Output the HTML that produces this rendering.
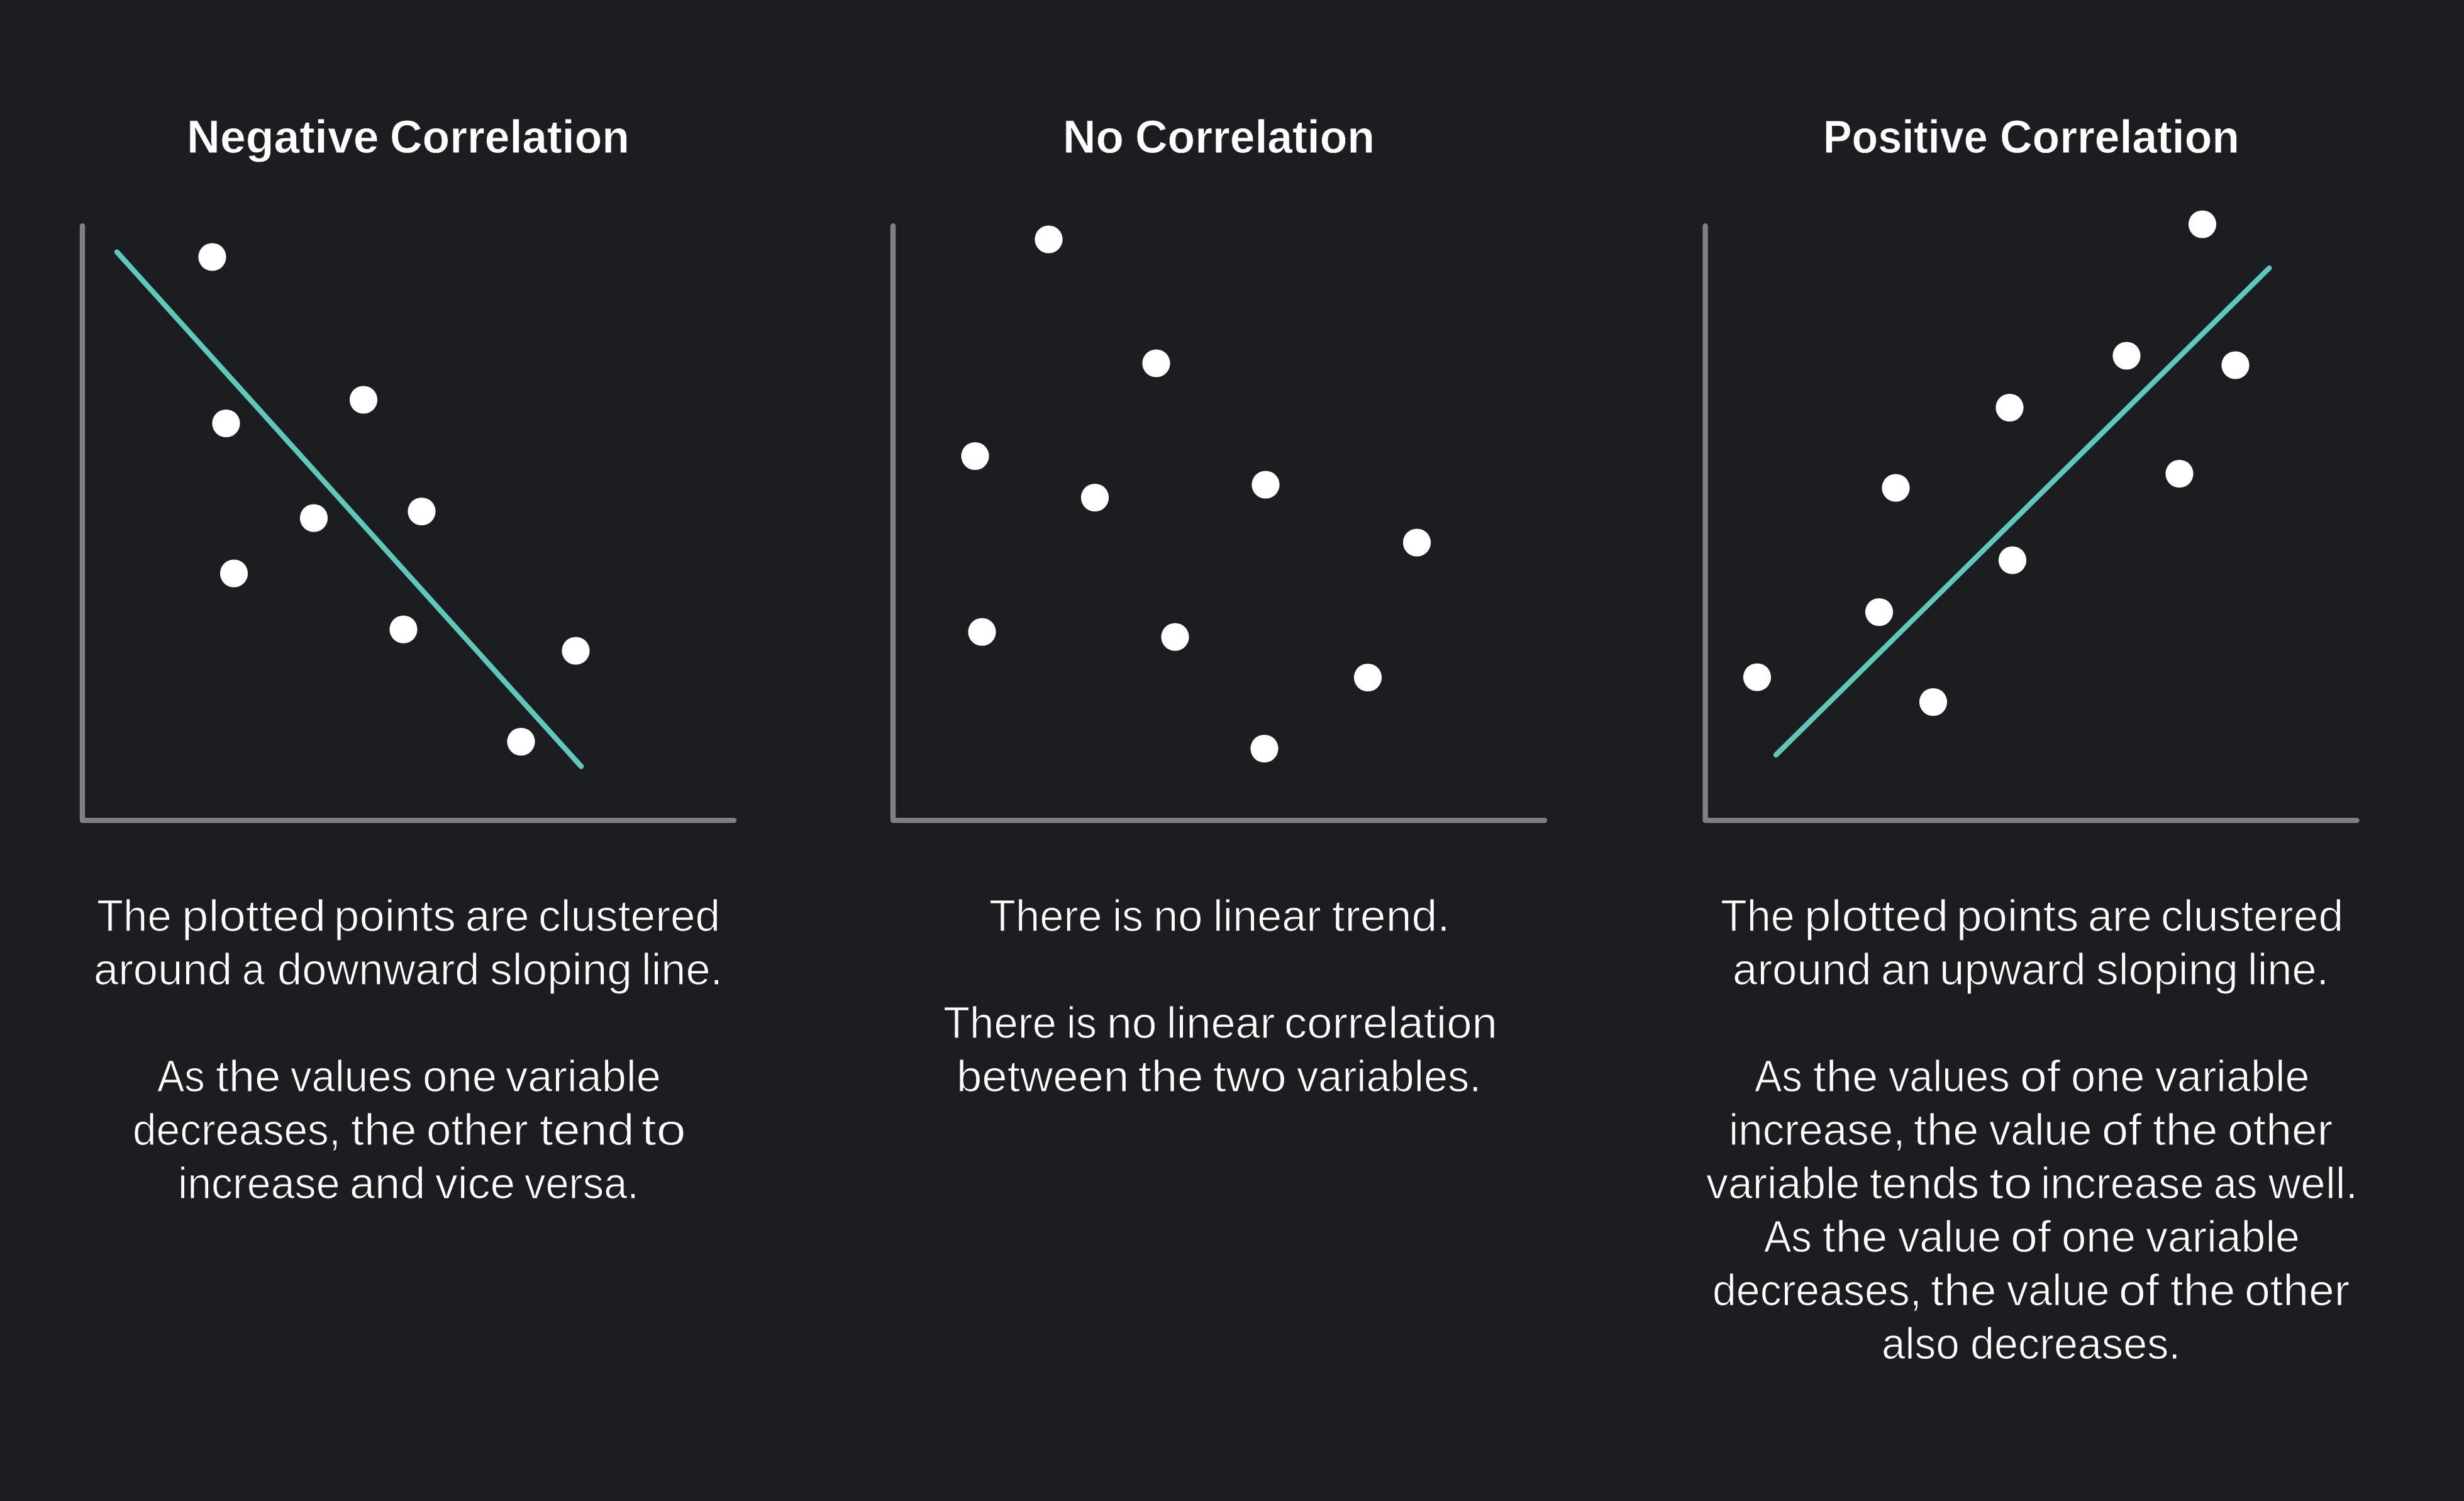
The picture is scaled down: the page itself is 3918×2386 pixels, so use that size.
<!DOCTYPE html>
<html><head><meta charset="utf-8"><title>Correlation</title>
<style>
html,body{margin:0;padding:0;background:#1c1d21;}
body{width:3918px;height:2386px;position:relative;overflow:hidden;font-family:"Liberation Sans",sans-serif;color:#fff;}
svg{position:absolute;left:0;top:0;display:block;}
p,h2{margin:0;padding:0;font-weight:inherit;font-size:inherit;}
.b,.t{position:absolute;white-space:nowrap;display:block;transform-origin:0 0;}
.b{font-size:69.5px;line-height:83.4px;font-weight:400;-webkit-text-stroke:1.2px #1c1d21;}
.t{font-size:74px;line-height:88.8px;font-weight:700;-webkit-text-stroke:0.8px #1c1d21;}
</style></head><body>
<svg width="3918" height="2386" viewBox="0 0 3918 2386">
<polyline points="131.0,359.2 131.0,1304.1 1167.0,1304.1" fill="none" stroke="#808080" stroke-width="8.4" stroke-linecap="round" stroke-linejoin="round"/>
<polyline points="1420.0,359.2 1420.0,1304.1 2456.0,1304.1" fill="none" stroke="#808080" stroke-width="8.4" stroke-linecap="round" stroke-linejoin="round"/>
<polyline points="2711.6,359.2 2711.6,1304.1 3747.6,1304.1" fill="none" stroke="#808080" stroke-width="8.4" stroke-linecap="round" stroke-linejoin="round"/>
<line x1="186.0" y1="400.6" x2="924.2" y2="1218.4" stroke="#5ec8bb" stroke-width="8.3" stroke-linecap="round"/>
<line x1="2824.0" y1="1200.0" x2="3608.3" y2="426.1" stroke="#5ec8bb" stroke-width="8.3" stroke-linecap="round"/>
<g fill="#fff"><circle cx="337.5" cy="408.5" r="22.1"/><circle cx="578" cy="635.5" r="22.1"/><circle cx="359.5" cy="673" r="22.1"/><circle cx="499" cy="823.5" r="22.1"/><circle cx="670.5" cy="813" r="22.1"/><circle cx="372" cy="911.5" r="22.1"/><circle cx="641.5" cy="1000.5" r="22.1"/><circle cx="915.5" cy="1034.5" r="22.1"/><circle cx="828.5" cy="1179" r="22.1"/></g>
<g fill="#fff"><circle cx="1667.5" cy="380.5" r="22.1"/><circle cx="1838.5" cy="577.5" r="22.1"/><circle cx="1550.5" cy="725" r="22.1"/><circle cx="1741" cy="791" r="22.1"/><circle cx="2012.5" cy="770.5" r="22.1"/><circle cx="2253" cy="862.5" r="22.1"/><circle cx="1561.5" cy="1004.5" r="22.1"/><circle cx="1868.5" cy="1012.5" r="22.1"/><circle cx="2175" cy="1077" r="22.1"/><circle cx="2010.5" cy="1190" r="22.1"/></g>
<g fill="#fff"><circle cx="3502" cy="356.5" r="22.1"/><circle cx="3381.5" cy="565.5" r="22.1"/><circle cx="3554.5" cy="580.5" r="22.1"/><circle cx="3195.5" cy="648" r="22.1"/><circle cx="3465.5" cy="753" r="22.1"/><circle cx="3014.5" cy="775.5" r="22.1"/><circle cx="3200" cy="890.5" r="22.1"/><circle cx="2988" cy="973" r="22.1"/><circle cx="2794" cy="1076.5" r="22.1"/><circle cx="3074" cy="1116" r="22.1"/></g>
</svg>
<h2><span class="t" style="left:296.6px;top:173.7px;transform:scaleX(0.9900)">Negative</span> <span class="t" style="left:619.6px;top:173.7px;transform:scaleX(0.9651)">Correlation</span></h2>
<h2><span class="t" style="left:1690.1px;top:173.7px;transform:scaleX(0.9833)">No</span> <span class="t" style="left:1804.6px;top:173.7px;transform:scaleX(0.9651)">Correlation</span></h2>
<h2><span class="t" style="left:2899.4px;top:173.7px;transform:scaleX(0.9221)">Positive</span> <span class="t" style="left:3179.6px;top:173.7px;transform:scaleX(0.9651)">Correlation</span></h2>
<p><span class="b" style="left:154.0px;top:1415.2px;transform:scaleX(0.9912)">The</span> <span class="b" style="left:288.5px;top:1415.2px;transform:scaleX(1.0980)">plotted</span> <span class="b" style="left:530.8px;top:1415.2px;transform:scaleX(1.0452)">points</span> <span class="b" style="left:740.0px;top:1415.2px;transform:scaleX(1.0108)">are</span> <span class="b" style="left:855.9px;top:1415.2px;transform:scaleX(1.0256)">clustered</span></p>
<p><span class="b" style="left:149.4px;top:1500.2px;transform:scaleX(1.0169)">around</span> <span class="b" style="left:384.8px;top:1500.2px;transform:scaleX(0.9265)">a</span> <span class="b" style="left:441.0px;top:1500.2px;transform:scaleX(1.0146)">downward</span> <span class="b" style="left:779.4px;top:1500.2px;transform:scaleX(1.0259)">sloping</span> <span class="b" style="left:1019.9px;top:1500.2px;transform:scaleX(1.0129)">line.</span></p>
<p><span class="b" style="left:249.6px;top:1670.2px;transform:scaleX(0.9351)">As</span> <span class="b" style="left:342.9px;top:1670.2px;transform:scaleX(1.0714)">the</span> <span class="b" style="left:461.5px;top:1670.2px;transform:scaleX(0.9645)">values</span> <span class="b" style="left:671.9px;top:1670.2px;transform:scaleX(1.0183)">one</span> <span class="b" style="left:804.0px;top:1670.2px;transform:scaleX(1.0146)">variable</span></p>
<p><span class="b" style="left:211.1px;top:1755.2px;transform:scaleX(0.9727)">decreases,</span> <span class="b" style="left:557.8px;top:1755.2px;transform:scaleX(1.0824)">the</span> <span class="b" style="left:678.4px;top:1755.2px;transform:scaleX(1.0195)">other</span> <span class="b" style="left:857.8px;top:1755.2px;transform:scaleX(1.1133)">tend</span> <span class="b" style="left:1020.1px;top:1755.2px;transform:scaleX(1.2212)">to</span></p>
<p><span class="b" style="left:282.6px;top:1840.2px;transform:scaleX(0.9803)">increase</span> <span class="b" style="left:555.9px;top:1840.2px;transform:scaleX(1.0374)">and</span> <span class="b" style="left:691.5px;top:1840.2px;transform:scaleX(1.0294)">vice</span> <span class="b" style="left:834.0px;top:1840.2px;transform:scaleX(0.9613)">versa.</span></p>
<p><span class="b" style="left:1573.0px;top:1415.2px;transform:scaleX(0.9886)">There</span> <span class="b" style="left:1769.1px;top:1415.2px;transform:scaleX(0.9762)">is</span> <span class="b" style="left:1833.9px;top:1415.2px;transform:scaleX(1.0145)">no</span> <span class="b" style="left:1929.0px;top:1415.2px;transform:scaleX(1.0092)">linear</span> <span class="b" style="left:2117.9px;top:1415.2px;transform:scaleX(1.0562)">trend.</span></p>
<p><span class="b" style="left:1499.5px;top:1585.2px;transform:scaleX(0.9915)">There</span> <span class="b" style="left:1696.2px;top:1585.2px;transform:scaleX(0.9524)">is</span> <span class="b" style="left:1759.9px;top:1585.2px;transform:scaleX(1.0290)">no</span> <span class="b" style="left:1854.9px;top:1585.2px;transform:scaleX(1.0123)">linear</span> <span class="b" style="left:2041.8px;top:1585.2px;transform:scaleX(1.0444)">correlation</span></p>
<p><span class="b" style="left:1520.8px;top:1670.2px;transform:scaleX(1.0435)">between</span> <span class="b" style="left:1810.4px;top:1670.2px;transform:scaleX(1.0714)">the</span> <span class="b" style="left:1929.3px;top:1670.2px;transform:scaleX(1.0777)">two</span> <span class="b" style="left:2061.5px;top:1670.2px;transform:scaleX(0.9862)">variables.</span></p>
<p><span class="b" style="left:2736.0px;top:1415.2px;transform:scaleX(0.9825)">The</span> <span class="b" style="left:2868.5px;top:1415.2px;transform:scaleX(1.0980)">plotted</span> <span class="b" style="left:3110.8px;top:1415.2px;transform:scaleX(1.0480)">points</span> <span class="b" style="left:3320.0px;top:1415.2px;transform:scaleX(1.0108)">are</span> <span class="b" style="left:3435.9px;top:1415.2px;transform:scaleX(1.0293)">clustered</span></p>
<p><span class="b" style="left:2754.9px;top:1500.2px;transform:scaleX(1.0193)">around</span> <span class="b" style="left:2990.9px;top:1500.2px;transform:scaleX(1.0294)">an</span> <span class="b" style="left:3083.9px;top:1500.2px;transform:scaleX(1.0206)">upward</span> <span class="b" style="left:3333.4px;top:1500.2px;transform:scaleX(1.0259)">sloping</span> <span class="b" style="left:3573.9px;top:1500.2px;transform:scaleX(1.0129)">line.</span></p>
<p><span class="b" style="left:2789.6px;top:1670.2px;transform:scaleX(0.9351)">As</span> <span class="b" style="left:2882.9px;top:1670.2px;transform:scaleX(1.0714)">the</span> <span class="b" style="left:3002.5px;top:1670.2px;transform:scaleX(0.9594)">values</span> <span class="b" style="left:3211.7px;top:1670.2px;transform:scaleX(1.1091)">of</span> <span class="b" style="left:3293.0px;top:1670.2px;transform:scaleX(1.0138)">one</span> <span class="b" style="left:3426.5px;top:1670.2px;transform:scaleX(1.0084)">variable</span></p>
<p><span class="b" style="left:2749.0px;top:1755.2px;transform:scaleX(0.9944)">increase,</span> <span class="b" style="left:3042.9px;top:1755.2px;transform:scaleX(1.0714)">the</span> <span class="b" style="left:3163.0px;top:1755.2px;transform:scaleX(0.9845)">value</span> <span class="b" style="left:3341.7px;top:1755.2px;transform:scaleX(1.0909)">of</span> <span class="b" style="left:3422.9px;top:1755.2px;transform:scaleX(1.0714)">the</span> <span class="b" style="left:3541.8px;top:1755.2px;transform:scaleX(1.0552)">other</span></p>
<p><span class="b" style="left:2713.0px;top:1840.2px;transform:scaleX(1.0042)">variable</span> <span class="b" style="left:2973.0px;top:1840.2px;transform:scaleX(1.0242)">tends</span> <span class="b" style="left:3162.6px;top:1840.2px;transform:scaleX(1.1827)">to</span> <span class="b" style="left:3245.1px;top:1840.2px;transform:scaleX(0.9882)">increase</span> <span class="b" style="left:3520.2px;top:1840.2px;transform:scaleX(0.9470)">as</span> <span class="b" style="left:3606.5px;top:1840.2px;transform:scaleX(1.0229)">well.</span></p>
<p><span class="b" style="left:2804.6px;top:1925.2px;transform:scaleX(0.9351)">As</span> <span class="b" style="left:2897.9px;top:1925.2px;transform:scaleX(1.0714)">the</span> <span class="b" style="left:3017.5px;top:1925.2px;transform:scaleX(0.9876)">value</span> <span class="b" style="left:3196.7px;top:1925.2px;transform:scaleX(1.1091)">of</span> <span class="b" style="left:3278.4px;top:1925.2px;transform:scaleX(1.0183)">one</span> <span class="b" style="left:3411.5px;top:1925.2px;transform:scaleX(1.0063)">variable</span></p>
<p><span class="b" style="left:2723.1px;top:2010.2px;transform:scaleX(0.9788)">decreases,</span> <span class="b" style="left:3070.3px;top:2010.2px;transform:scaleX(1.0824)">the</span> <span class="b" style="left:3190.5px;top:2010.2px;transform:scaleX(0.9845)">value</span> <span class="b" style="left:3369.2px;top:2010.2px;transform:scaleX(1.1091)">of</span> <span class="b" style="left:3451.4px;top:2010.2px;transform:scaleX(1.0714)">the</span> <span class="b" style="left:3569.3px;top:2010.2px;transform:scaleX(1.0552)">other</span></p>
<p><span class="b" style="left:2992.1px;top:2095.2px;transform:scaleX(0.9708)">also</span> <span class="b" style="left:3133.1px;top:2095.2px;transform:scaleX(0.9833)">decreases.</span></p>
</body></html>
